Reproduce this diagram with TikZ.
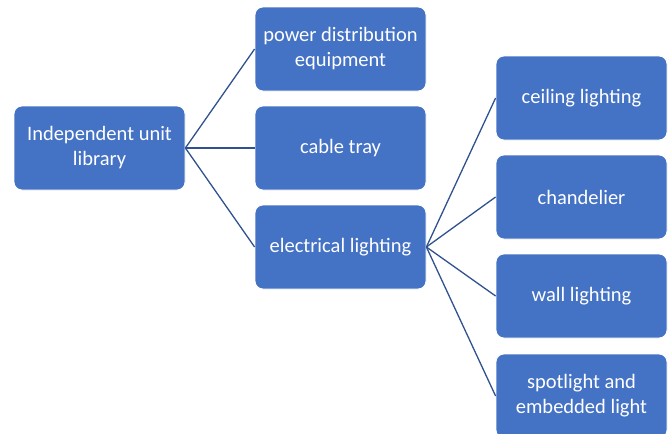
\documentclass[tikz,border=0pt]{standalone}
\usepackage{fontspec}
\setmainfont{Carlito}
\definecolor{boxblue}{HTML}{4472C4}
\definecolor{lineblue}{HTML}{2F528F}
\begin{document}
\begin{tikzpicture}[x=1pt,y=-1pt,
  box/.style={draw=white,line width=0.8pt,fill=boxblue,rounded corners=8pt,
    minimum width=171pt,minimum height=84pt,inner sep=2pt,align=center,
    text=white,font=\fontsize{20.5}{25}\selectfont},
  link/.style={draw=lineblue,line width=1.3pt}]
\useasboundingbox (0,0) rectangle (670,434);
\clip (0,0) rectangle (670,434);
\node[box] (root) at (99.5,148) {Independent unit\\library};
\node[box] (pde) at (340.5,49) {power distribution\\equipment};
\node[box] (ct) at (340.5,148) {cable tray};
\node[box] (el) at (340.5,247) {electrical lighting};
\node[box] (cl) at (581.5,98) {ceiling lighting};
\node[box] (ch) at (581.5,197) {chandelier};
\node[box] (wl) at (581.5,296) {wall lighting};
\node[box] (sp) at (581.5,396) {spotlight and\\embedded light};
\draw[link] (root.east) -- (pde.west);
\draw[link] (root.east) -- (ct.west);
\draw[link] (root.east) -- (el.west);
\draw[link] (el.east) -- (cl.west);
\draw[link] (el.east) -- (ch.west);
\draw[link] (el.east) -- (wl.west);
\draw[link] (el.east) -- (sp.west);
\end{tikzpicture}
\end{document}
